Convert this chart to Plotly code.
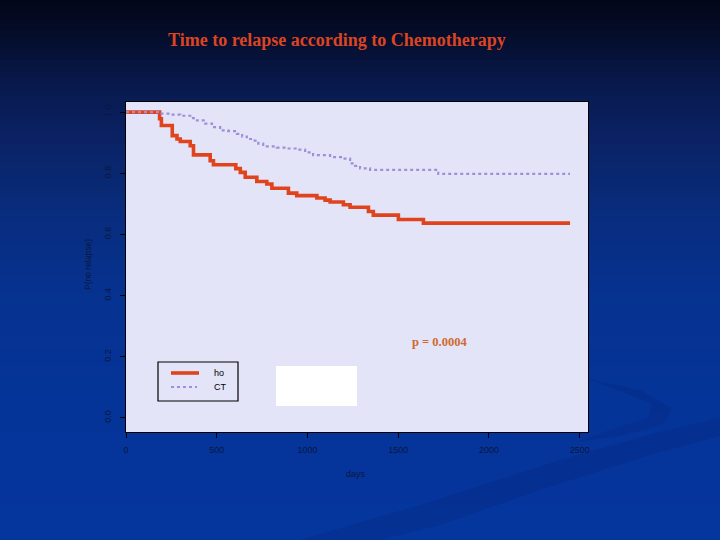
import plotly.graph_objects as go

# ---- data ----
no_ct_days = [0, 185, 195, 255, 281, 299, 354, 372, 464, 482, 605, 630, 657, 721, 776,
              804, 895, 941, 1052, 1097, 1125, 1198, 1235, 1336, 1363, 1501, 1639, 2447]
no_ct_surv = [1.0, 0.978, 0.956, 0.923, 0.912, 0.904, 0.890, 0.860, 0.841, 0.828, 0.815,
              0.803, 0.787, 0.773, 0.765, 0.751, 0.735, 0.727, 0.719, 0.712, 0.706, 0.697,
              0.689, 0.675, 0.663, 0.649, 0.637, 0.637]

ct_days = [0, 189, 244, 299, 354, 391, 437, 474, 519, 563, 611, 640, 666, 701, 729, 756,
           831, 887, 942, 987, 1031, 1125, 1197, 1235, 1263, 1290, 1345, 1721, 2447]
ct_surv = [1.0, 0.995, 0.992, 0.988, 0.980, 0.973, 0.962, 0.951, 0.940, 0.938, 0.929,
           0.920, 0.912, 0.907, 0.897, 0.888, 0.884, 0.881, 0.877, 0.868, 0.859, 0.853,
           0.848, 0.832, 0.824, 0.816, 0.811, 0.798, 0.798]

x_ticks = [0, 500, 1000, 1500, 2000, 2500]
y_ticks = [0.0, 0.2, 0.4, 0.6, 0.8, 1.0]
legend_labels = ["ho", "CT"]
title_text = "Time to relapse according to Chemotherapy"
p_text = "p = 0.0004"

# ---- layout geometry (pixels) ----
W, H = 720, 540
L, R, T, B = 126, 588, 102, 432
PW, PH = R - L, B - T


def px(x):
    return (x - L) / PW


def py(y):
    return (B - y) / PH


RED = "#e0441c"
PURPLE = "#9d8fd8"

fig = go.Figure()
fig.add_trace(go.Scatter(x=no_ct_days, y=no_ct_surv, mode="lines", line_shape="hv",
                         line=dict(color=RED, width=3.6), name=legend_labels[0],
                         showlegend=False))
fig.add_trace(go.Scatter(x=ct_days, y=ct_surv, mode="lines", line_shape="hv",
                         line=dict(color=PURPLE, width=2.2, dash="dot"), name=legend_labels[1],
                         showlegend=False))

shapes = []
# background vertical gradient
anchors = [(0, (3, 6, 24)), (40, (5, 14, 46)), (90, (9, 26, 80)), (150, (10, 36, 104)),
           (220, (8, 45, 128)), (300, (6, 50, 145)), (400, (5, 52, 152)), (540, (5, 54, 158))]


def col_at(y):
    for (y0, c0), (y1, c1) in zip(anchors[:-1], anchors[1:]):
        if y0 <= y <= y1:
            t = (y - y0) / (y1 - y0)
            return "rgb(%d,%d,%d)" % tuple(round(a + (b - a) * t) for a, b in zip(c0, c1))
    return "rgb(%d,%d,%d)" % anchors[-1][1]


step = 6
for yy in range(0, H, step):
    shapes.append(dict(type="rect", xref="paper", yref="paper", layer="below",
                       x0=px(0), x1=px(W), y0=py(yy + step + 0.5), y1=py(yy),
                       line=dict(width=0), fillcolor=col_at(yy + step / 2)))


# subtle swoosh bands
def path(points):
    return "M " + " L ".join("%f,%f" % (px(a), py(b)) for a, b in points) + " Z"


shapes.append(dict(type="path", xref="paper", yref="paper", layer="below",
                   path=path([(300, 540), (420, 505), (560, 460), (660, 432), (720, 418),
                              (720, 436), (650, 455), (540, 490), (440, 525), (380, 540)]),
                   line=dict(width=0), fillcolor="rgba(3,30,110,0.2)"))
shapes.append(dict(type="path", xref="paper", yref="paper", layer="below",
                   path=path([(585, 378), (640, 390), (672, 408), (664, 424), (620, 436),
                              (575, 442), (610, 430), (648, 418), (652, 404), (622, 392)]),
                   line=dict(width=0), fillcolor="rgba(3,30,110,0.2)"))

# plot area background
shapes.append(dict(type="rect", xref="paper", yref="paper", layer="below",
                   x0=0, x1=1, y0=0, y1=1, line=dict(width=0), fillcolor="#e4e4f8"))

# legend box and samples
shapes.append(dict(type="rect", xref="paper", yref="paper",
                   x0=px(158), x1=px(238), y0=py(401), y1=py(362),
                   line=dict(color="black", width=1.2), fillcolor="rgba(0,0,0,0)"))
shapes.append(dict(type="line", xref="paper", yref="paper",
                   x0=px(171), x1=px(199), y0=py(373), y1=py(373),
                   line=dict(color=RED, width=3.6)))
shapes.append(dict(type="line", xref="paper", yref="paper",
                   x0=px(171), x1=px(197), y0=py(387), y1=py(387),
                   line=dict(color=PURPLE, width=2, dash="dot")))
# white rectangle
shapes.append(dict(type="rect", xref="paper", yref="paper",
                   x0=px(276), x1=px(357), y0=py(406), y1=py(366),
                   line=dict(width=0), fillcolor="white"))

TICK_COLOR = "#0b1640"
annotations = [
    dict(text="<b>%s</b>" % title_text, xref="paper", yref="paper", x=px(337), y=py(40),
         showarrow=False, font=dict(family="Liberation Serif", size=18, color="#dc4422"),
         xanchor="center", yanchor="middle"),
    dict(text="<b>%s</b>" % p_text, xref="paper", yref="paper", x=px(439), y=py(342),
         showarrow=False, font=dict(family="Liberation Serif", size=12.5, color="#cc6a30"),
         xanchor="center", yanchor="middle"),
    dict(text="days", xref="paper", yref="paper", x=px(356), y=py(474), showarrow=False,
         font=dict(family="Liberation Sans", size=9, color=TICK_COLOR),
         xanchor="center", yanchor="middle"),
    dict(text="P(no relapse)", xref="paper", yref="paper", x=px(88), y=py(265),
         showarrow=False, textangle=-90,
         font=dict(family="Liberation Sans", size=8.5, color=TICK_COLOR),
         xanchor="center", yanchor="middle"),
    dict(text=legend_labels[0], xref="paper", yref="paper", x=px(212), y=py(373),
         showarrow=False, font=dict(family="Liberation Sans", size=9, color="black"),
         xanchor="left", yanchor="middle"),
    dict(text=legend_labels[1], xref="paper", yref="paper", x=px(212), y=py(387),
         showarrow=False, font=dict(family="Liberation Sans", size=9, color="black"),
         xanchor="left", yanchor="middle"),
]

fig.update_layout(
    width=W, height=H,
    margin=dict(l=L, r=W - R, t=T, b=H - B, pad=0),
    paper_bgcolor="#0a2a80",
    plot_bgcolor="rgba(0,0,0,0)",
    shapes=shapes,
    annotations=annotations,
    showlegend=False,
)
fig.update_xaxes(range=[0, 2546], tickvals=x_ticks, ticktext=[str(v) for v in x_ticks],
                 showgrid=False, zeroline=False, showline=True, mirror=True,
                 linecolor="black", linewidth=1.2, ticks="outside", ticklen=5,
                 tickcolor="black", ticklabelstandoff=4,
                 tickfont=dict(family="Liberation Sans", size=9, color=TICK_COLOR))
fig.update_yaxes(range=[-0.046, 1.033], tickvals=y_ticks,
                 ticktext=["%.1f" % v for v in y_ticks],
                 showgrid=False, zeroline=False, showline=True, mirror=True,
                 linecolor="black", linewidth=1.2, ticks="outside", ticklen=5,
                 tickcolor="black", tickangle=-90, ticklabelstandoff=5,
                 tickfont=dict(family="Liberation Sans", size=9, color=TICK_COLOR))

fig.write_html("out.html", config={"displayModeBar": False},
               post_script="document.body.style.margin='0';document.body.style.background='#03061a';")
